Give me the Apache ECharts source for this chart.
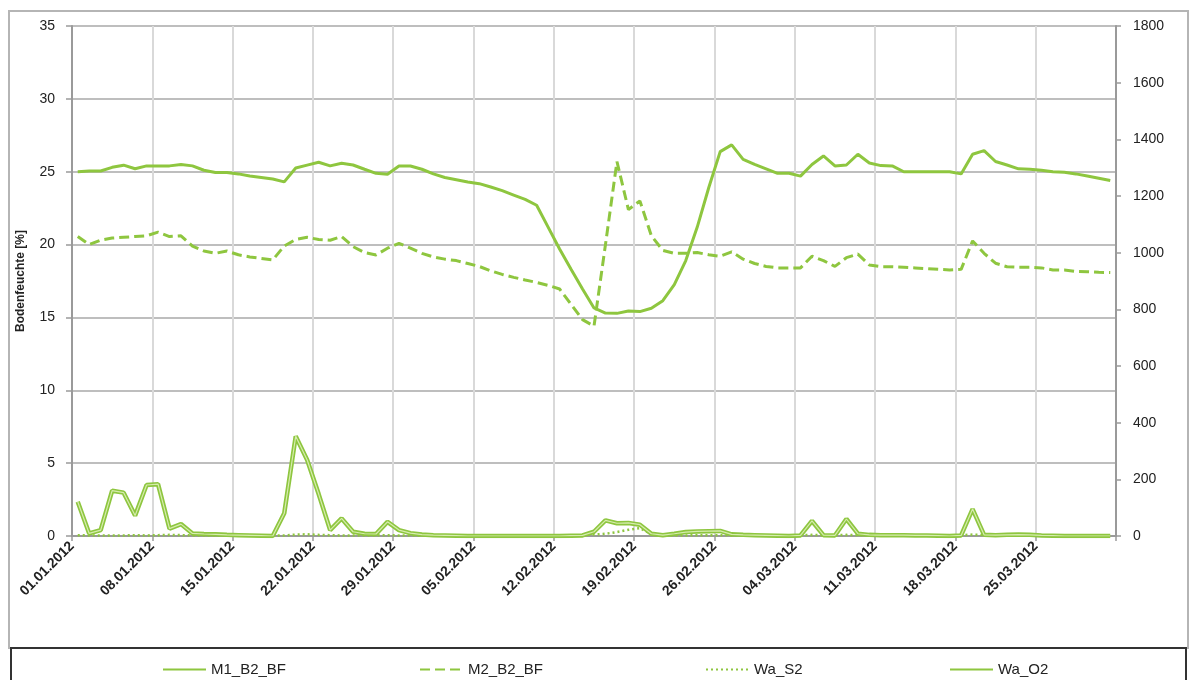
<!DOCTYPE html>
<html>
<head>
<meta charset="utf-8">
<script src="https://cdn.jsdelivr.net/npm/echarts@6/dist/echarts.min.js"></script>
<style>
html,body{margin:0;padding:0;background:#fff;}
#chart{width:1190px;height:680px;}
</style>
</head>
<body>
<div id="chart"></div>
<script>
// ---- categories (daily, 01.01.2012 - 31.03.2012) ----
const monthLengths = [31, 29, 31];
const days = [];
monthLengths.forEach((n, m) => {
  for (let d = 1; d <= n; d++) {
    days.push(String(d).padStart(2, '0') + '.' + String(m + 1).padStart(2, '0') + '.2012');
  }
});
// tick boundaries: 01.01.2012 ... 01.04.2012
const tickDays = days.concat(['01.04.2012']);

// ---- series values ----
const M1_B2_BF = [
  25.0,25.05,25.05,25.3,25.45,25.2,25.4,25.4,25.4,25.5,
  25.4,25.1,24.95,24.95,24.85,24.7,24.6,24.5,24.3,25.25,
  25.45,25.65,25.4,25.58,25.46,25.17,24.89,24.82,25.39,25.39,
  25.17,24.85,24.6,24.45,24.3,24.18,23.95,23.7,23.4,23.1,
  22.7,21.2,19.7,18.3,16.95,15.65,15.3,15.28,15.44,15.4,
  15.63,16.15,17.25,18.9,21.2,23.9,26.38,26.84,25.85,25.5,
  25.2,24.89,24.89,24.7,25.5,26.08,25.4,25.46,26.2,25.6,
  25.42,25.4,25.0,25.0,25.0,25.0,25.0,24.85,26.2,26.45,
  25.7,25.46,25.2,25.17,25.1,25.0,24.96,24.85,24.7,24.55,
  24.4
];
const M2_B2_BF = [
  20.55,20.0,20.3,20.45,20.5,20.55,20.6,20.85,20.55,20.6,
  19.9,19.56,19.4,19.56,19.3,19.15,19.05,18.95,19.9,20.35,
  20.5,20.35,20.3,20.55,19.86,19.45,19.29,19.75,20.09,19.75,
  19.4,19.15,19.0,18.9,18.7,18.5,18.2,17.95,17.75,17.57,
  17.4,17.2,16.95,15.9,14.85,14.4,20.0,25.7,22.4,23.0,
  20.6,19.6,19.4,19.4,19.45,19.3,19.2,19.5,19.0,18.7,
  18.5,18.4,18.4,18.4,19.2,18.9,18.5,19.1,19.35,18.6,
  18.48,18.48,18.45,18.4,18.35,18.3,18.26,18.3,20.25,19.4,
  18.72,18.48,18.45,18.45,18.4,18.26,18.25,18.15,18.14,18.1,
  18.08
];
const Wa_S2 = [
  3,2,2,2,2,3,2,3,4,3,
  2,2,2,2,1,1,1,1,2,5,
  6,4,3,2,2,2,2,3,2,2,
  1,1,1,1,1,1,1,1,1,1,
  1,1,1,2,3,5,8,14,22,28,
  6,2,2,2,3,3,3,2,2,2,
  2,2,2,3,4,3,3,4,3,2,
  2,2,2,2,2,2,2,3,5,3,
  2,2,2,2,2,2,2,1,1,1,
  1
];
const Wa_O2 = [
  121,9,21,160,153,72,180,183,26,42,
  9,7,6,4,3,2,1,0,80,352,
  268,148,21,62,15,8,7,50,21,10,
  5,3,2,1,0,0,0,0,0,0,
  0,0,0,1,2,15,55,45,46,40,
  8,3,8,14,16,17,18,6,4,3,
  2,1,0,2,53,3,2,60,8,4,
  3,3,3,2,2,1,0,2,95,4,
  3,4,5,4,2,1,0,0,0,0,
  0
];

// ---- axis ticks ----
const leftTicks = {min: 0, max: 35, interval: 5};
const rightTicks = {min: 0, max: 1800, interval: 200};

const GREEN = '#8ec63f';
const FONT = 'Liberation Sans, Arial, sans-serif';
const TXT = '#222';

const chart = echarts.init(document.getElementById('chart'), null, {renderer: 'canvas'});

function legendItem(name, left) {
  return {
    data: [name], left: left, top: 657, itemWidth: 43, itemHeight: 14,
    itemStyle: {opacity: 0},
    textStyle: {fontSize: 15, color: TXT, fontFamily: FONT},
    selectedMode: false
  };
}

chart.setOption({
  animation: false,
  backgroundColor: '#fff',
  textStyle: {fontFamily: FONT},
  grid: {left: 72, right: 74, top: 26, bottom: 144, containLabel: false},
  graphic: [
    {type: 'rect', shape: {x: 9, y: 11, width: 1179, height: 637},
     style: {fill: 'none', stroke: '#b5b5b5', lineWidth: 2}, silent: true, z: -10},
    {type: 'rect', shape: {x: 11, y: 648, width: 1175, height: 60},
     style: {fill: '#fff', stroke: '#333', lineWidth: 2}, silent: true, z: -5}
  ],
  legend: [
    legendItem('M1_B2_BF', 157),
    legendItem('M2_B2_BF', 414),
    legendItem('Wa_S2', 700),
    legendItem('Wa_O2', 944)
  ],
  xAxis: [
    {
      type: 'category', data: days, boundaryGap: true, position: 'top',
      axisLine: {show: true, lineStyle: {color: '#222', width: 1.5}},
      axisTick: {show: false}, axisLabel: {show: false}, splitLine: {show: false}
    },
    {
      type: 'category', data: tickDays, boundaryGap: false, position: 'bottom',
      axisLine: {show: true, onZero: false, lineStyle: {color: '#9a9a9a', width: 2}},
      axisTick: {show: true, interval: (i) => i % 7 === 0, length: 5, lineStyle: {color: '#9a9a9a', width: 1.5}},
      axisLabel: {
        interval: (i) => i % 7 === 0 && i < 91,
        rotate: 45, fontWeight: 'bold', fontSize: 14, color: TXT, margin: 8, fontFamily: FONT
      },
      splitLine: {show: true, interval: (i) => i % 7 === 0 && i > 0 && i < 91,
                  lineStyle: {color: '#d9d9d9', width: 2}}
    }
  ],
  yAxis: [
    {
      type: 'value', position: 'left', min: leftTicks.min, max: leftTicks.max, interval: leftTicks.interval,
      name: 'Bodenfeuchte [%]', nameLocation: 'middle', nameGap: 45,
      nameTextStyle: {fontWeight: 'bold', fontSize: 12, color: TXT, fontFamily: FONT},
      axisLine: {show: true, lineStyle: {color: '#9a9a9a', width: 2}},
      axisTick: {show: true, length: 6, lineStyle: {color: '#9a9a9a', width: 1.5}},
      axisLabel: {fontSize: 14, color: TXT, margin: 17, fontFamily: FONT},
      splitLine: {show: true, lineStyle: {color: '#a8a8a8', width: 1.5}}
    },
    {
      type: 'value', position: 'right', min: rightTicks.min, max: rightTicks.max, interval: rightTicks.interval,
      axisLine: {show: true, lineStyle: {color: '#9a9a9a', width: 2}},
      axisTick: {show: true, length: 5, lineStyle: {color: '#9a9a9a', width: 1.5}},
      axisLabel: {fontSize: 14, color: TXT, margin: 17, fontFamily: FONT, formatter: (v) => String(v)},
      splitLine: {show: false}
    }
  ],
  series: [
    {name: 'M1_B2_BF', type: 'line', xAxisIndex: 0, yAxisIndex: 0, data: M1_B2_BF,
     symbol: 'none', lineStyle: {color: GREEN, width: 3}, itemStyle: {color: GREEN}, z: 3},
    {name: 'M2_B2_BF', type: 'line', xAxisIndex: 0, yAxisIndex: 0, data: M2_B2_BF,
     symbol: 'none', lineStyle: {color: GREEN, width: 3, type: [10, 5]}, itemStyle: {color: GREEN}, z: 3},
    {name: 'Wa_S2', type: 'line', xAxisIndex: 0, yAxisIndex: 1, data: Wa_S2,
     symbol: 'none', lineStyle: {color: GREEN, width: 2.5, type: [2, 3]}, itemStyle: {color: GREEN}, z: 3},
    {name: 'Wa_O2', type: 'line', xAxisIndex: 0, yAxisIndex: 1, data: Wa_O2,
     symbol: 'none', lineStyle: {color: GREEN, width: 4.5}, itemStyle: {color: GREEN}, z: 4},
    {name: 'Wa_O2_inner', type: 'line', xAxisIndex: 0, yAxisIndex: 1, data: Wa_O2,
     symbol: 'none', lineStyle: {color: '#d6ecae', width: 1.2}, itemStyle: {color: '#d6ecae'}, z: 5,
     silent: true}
  ]
});
</script>
</body>
</html>
